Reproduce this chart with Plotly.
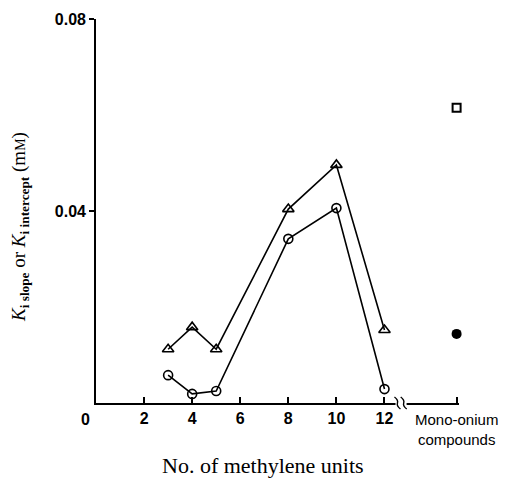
import plotly.graph_objects as go

# data
methylene = [3, 4, 5, 8, 10, 12]
ki_slope = [0.0112, 0.0158, 0.0112, 0.0404, 0.0496, 0.0152]      # triangles
ki_intercept = [0.0058, 0.0019, 0.0025, 0.0342, 0.0406, 0.0029]  # circles
mono_x = 15
mono_square = 0.0615
mono_filled = 0.0144

x_ticks = [2, 4, 6, 8, 10, 12, 15]
x_ticktext = ["2", "4", "6", "8", "10", "12", ""]
y_ticks = [0.04, 0.08]
y_ticktext = ["0.04", "0.08"]

fig = go.Figure()
fig.add_trace(go.Scatter(x=methylene, y=ki_slope, mode="lines+markers",
                         line=dict(color="black", width=1.6),
                         marker=dict(symbol="triangle-up-open", size=10, color="black",
                                     line=dict(width=1.6)),
                         cliponaxis=False, showlegend=False))
fig.add_trace(go.Scatter(x=methylene, y=ki_intercept, mode="lines+markers",
                         line=dict(color="black", width=1.6),
                         marker=dict(symbol="circle-open", size=9, color="black",
                                     line=dict(width=1.6)),
                         cliponaxis=False, showlegend=False))
fig.add_trace(go.Scatter(x=[mono_x], y=[mono_square], mode="markers",
                         marker=dict(symbol="square-open", size=8, color="black",
                                     line=dict(width=2)),
                         cliponaxis=False, showlegend=False))
fig.add_trace(go.Scatter(x=[mono_x], y=[mono_filled], mode="markers",
                         marker=dict(symbol="circle", size=10, color="black"),
                         cliponaxis=False, showlegend=False))

tickfont = dict(family="Liberation Sans", size=16, color="black", weight="bold")
fig.update_xaxes(range=[0, 15.1], showline=True, linecolor="black", linewidth=1.6,
                 ticks="inside", ticklen=6, tickwidth=1.6, tickcolor="black",
                 tickvals=x_ticks, ticktext=x_ticktext, tickfont=tickfont,
                 showgrid=False, zeroline=False)
fig.update_yaxes(range=[0, 0.08], showline=True, linecolor="black", linewidth=1.6,
                 ticks="outside", ticklen=5, tickwidth=1.6, tickcolor="black",
                 tickvals=y_ticks, ticktext=y_ticktext, tickfont=tickfont,
                 showgrid=False, zeroline=False)

# axis break
fig.add_shape(type="rect", xref="x", yref="paper", x0=12.46, x1=12.92, y0=-0.01, y1=0.01,
              fillcolor="white", line=dict(width=0), layer="above")
for xb in [12.54, 12.8]:
    fig.add_shape(type="path", xref="x", yref="paper", xsizemode="pixel", ysizemode="pixel",
                  xanchor=xb, yanchor=0,
                  path="M -3 6 Q 1 3 0 0 Q -1 -3 3 -6",
                  line=dict(color="black", width=1.4), layer="above")

fig.add_annotation(x=0, y=0, xref="x", yref="paper", text="0", showarrow=False,
                   xanchor="center", yanchor="middle",
                   xshift=-11, yshift=-16, font=tickfont)
fig.add_annotation(x=15, y=0, xref="x", yref="paper",
                   text="Mono-onium<br>compounds",
                   showarrow=False, yanchor="top", yshift=-6, align="center",
                   font=dict(family="Liberation Sans", size=15, color="black"))
fig.add_annotation(x=0.46, y=0, xref="paper", yref="paper", text="No. of methylene units",
                   showarrow=False, yanchor="middle", yshift=-62,
                   font=dict(family="Liberation Serif", size=22, color="black"))
fig.add_annotation(x=0, y=0.5, xref="paper", yref="paper", textangle=-90,
                   text="<i>K</i><sub><b>i slope</b></sub> or <i>K</i><sub><b>i intercept</b></sub> (m<span style='font-size:14px'>M</span>)",
                   showarrow=False, xanchor="center", xshift=-76, yshift=-16,
                   font=dict(family="Liberation Serif", size=19, color="black"))

fig.update_layout(width=522, height=479, margin=dict(l=96, r=63, t=19, b=76),
                  paper_bgcolor="white", plot_bgcolor="white",
                  font=dict(family="Liberation Sans", color="black"))
fig.write_html("out.html")
